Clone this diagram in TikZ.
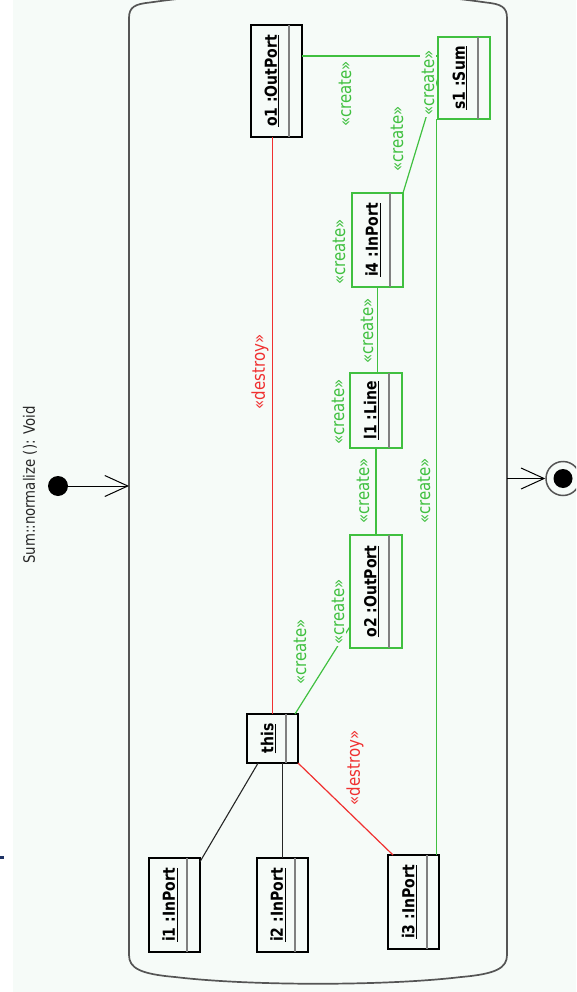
\documentclass[tikz,border=0pt]{standalone}
\usepackage{fontspec}
\setmainfont{DejaVu Sans}
\usetikzlibrary{arrows.meta}
\definecolor{bgtint}{RGB}{246,251,248}
\definecolor{umlgreen}{RGB}{64,192,64}
\definecolor{umlred}{RGB}{240,48,48}
\definecolor{framegray}{RGB}{85,85,85}
\definecolor{marknavy}{RGB}{30,50,100}
\newcommand\tallt[1]{\scalebox{1}[1.18]{#1}}
% #1 name, #2 x1, #3 y1, #4 x2, #5 y2, #6 x of divider, #7 colour, #8 text
\newcommand\umlobj[8]{%
  \node[objbox, draw=#7, minimum width={(#4)-(#2)}, minimum height={(#5)-(#3)}] (#1) at ({((#2)+(#4))/2},{((#3)+(#5))/2}) {};
  \draw[divider] (#6,#3) -- (#6,#5);
  \node[objname] (#1-name) at ({((#2)+(#6))/2+2},{((#3)+(#5))/2}) {\tallt{\underline{#8}}};
}
\begin{document}
\begin{tikzpicture}[x=1pt,y=-1pt,
  objbox/.style={line width=1.3pt, inner sep=0pt, outer sep=0pt, fill=bgtint},
  divider/.style={gray, line width=1.5pt},
  objname/.style={font=\fontsize{14}{16}\selectfont\bfseries, rotate=90, inner sep=0pt, text=black},
  clabel/.style={text=umlgreen, font=\fontsize{15}{17}\selectfont, rotate=90, fill=bgtint, inner sep=1.5pt},
  dlabel/.style={clabel, text=umlred},
  glink/.style={umlgreen, line width=1.2pt},
  rlink/.style={umlred, line width=1.2pt},
  blink/.style={black!85, line width=1.1pt},
  barb/.style={-{Straight Barb[length=23pt,width=21pt,line width=1pt]}}
]
\clip (0,0) rectangle (576,992);
\fill[white] (0,0) rectangle (576,992);
\fill[bgtint] (13,0) rectangle (576,992);
\fill[marknavy] (0,856) rectangle (4,859);

% activity frame
\draw[framegray, line width=1.7pt]
  (129,18) .. controls (129,7) and (135,4) .. (150,2.5)
  .. controls (250,-12) and (386,-12) .. (486,2.5)
  .. controls (501,4) and (507,7) .. (507,18)
  -- (507,955)
  .. controls (507,968) and (496,974) .. (461,977)
  .. controls (386,986) and (250,986) .. (175,977)
  .. controls (140,974) and (129,968) .. (129,955) -- cycle;

% title, initial and final states
\node[rotate=90, font=\fontsize{13.3}{15}\selectfont, text=black!85] (title) at (30,485) {\tallt{Sum::normalize (): Void}};
\node[circle, fill=black, minimum size=20pt, inner sep=0pt] (init) at (58,486) {};
\coordinate (framein) at (129,486);
\draw[black, line width=1pt, barb] (init) -- (framein);

\node[circle, draw=framegray, line width=1.5pt, minimum size=34pt, inner sep=0pt, fill=bgtint] (final) at (563,478.5) {};
\node[circle, fill=black, minimum size=19pt, inner sep=0pt] (finaldot) at (563,478.5) {};
\coordinate (frameout) at (507,478.5);
\draw[black, line width=1pt, barb] (frameout) -- (final);

% objects
\umlobj{o1}{251}{25}{302}{137}{289}{black}{o1 :OutPort}
\umlobj{s1}{438}{37}{490}{119}{478}{umlgreen}{s1 :Sum}
\umlobj{i4}{352}{193}{403}{287}{390}{umlgreen}{i4 :InPort}
\umlobj{l1}{350}{373}{402}{448}{389}{umlgreen}{l1 :Line}
\umlobj{o2}{350}{535}{402}{648}{389}{umlgreen}{o2 :OutPort}
\umlobj{this}{247}{714}{298}{763}{286}{black}{this}
\umlobj{i1}{149}{858}{200}{952}{187}{black}{i1 :InPort}
\umlobj{i2}{257}{858}{308}{952}{295}{black}{i2 :InPort}
\umlobj{i3}{388}{855}{439}{949}{427}{black}{i3 :InPort}

% links
\draw[rlink] (this.north |- o1.south) -- (this.north);
\draw[glink] (o1.east |- 0,56) -- (s1.west |- 0,56);
\draw[glink] (i4.north east) -- (s1.west);
\draw[glink] (i4.south) -- (i4.south |- l1.north);
\draw[glink] (l1.south) -- (l1.south |- o2.north);
\draw[glink] ([xshift=-2.5pt]i3.north east) -- ([xshift=-2.5pt]i3.north east |- s1.south);
\draw[glink] ([xshift=-3pt]this.north east) -- ([yshift=-35pt]o2.west);
\draw[blink] (this) -- (i1);
\draw[blink] (i2.north) -- (i2.north |- this.south);
\draw[rlink] (this.south east) -- ([xshift=5pt]i3.north west);

% labels
\node[clabel] (c1) at (345,94) {\tallt{«create»}};
\node[clabel] (c2) at (428,83) {\tallt{«create»}};
\node[clabel] (c3) at (397,139) {\tallt{«create»}};
\node[clabel] (c4) at (339,252) {\tallt{«create»}};
\node[clabel] (c5) at (367,331) {\tallt{«create»}};
\node[clabel] (c6) at (338,412) {\tallt{«create»}};
\node[clabel] (c7) at (363,491) {\tallt{«create»}};
\node[clabel] (c8) at (424,491) {\tallt{«create»}};
\node[clabel] (c9) at (338,612) {\tallt{«create»}};
\node[clabel] (c10) at (300,652) {\tallt{«create»}};
\node[dlabel] (d1) at (260,372) {\tallt{«destroy»}};
\node[dlabel] (d2) at (355,768) {\tallt{«destroy»}};
\end{tikzpicture}
\end{document}
